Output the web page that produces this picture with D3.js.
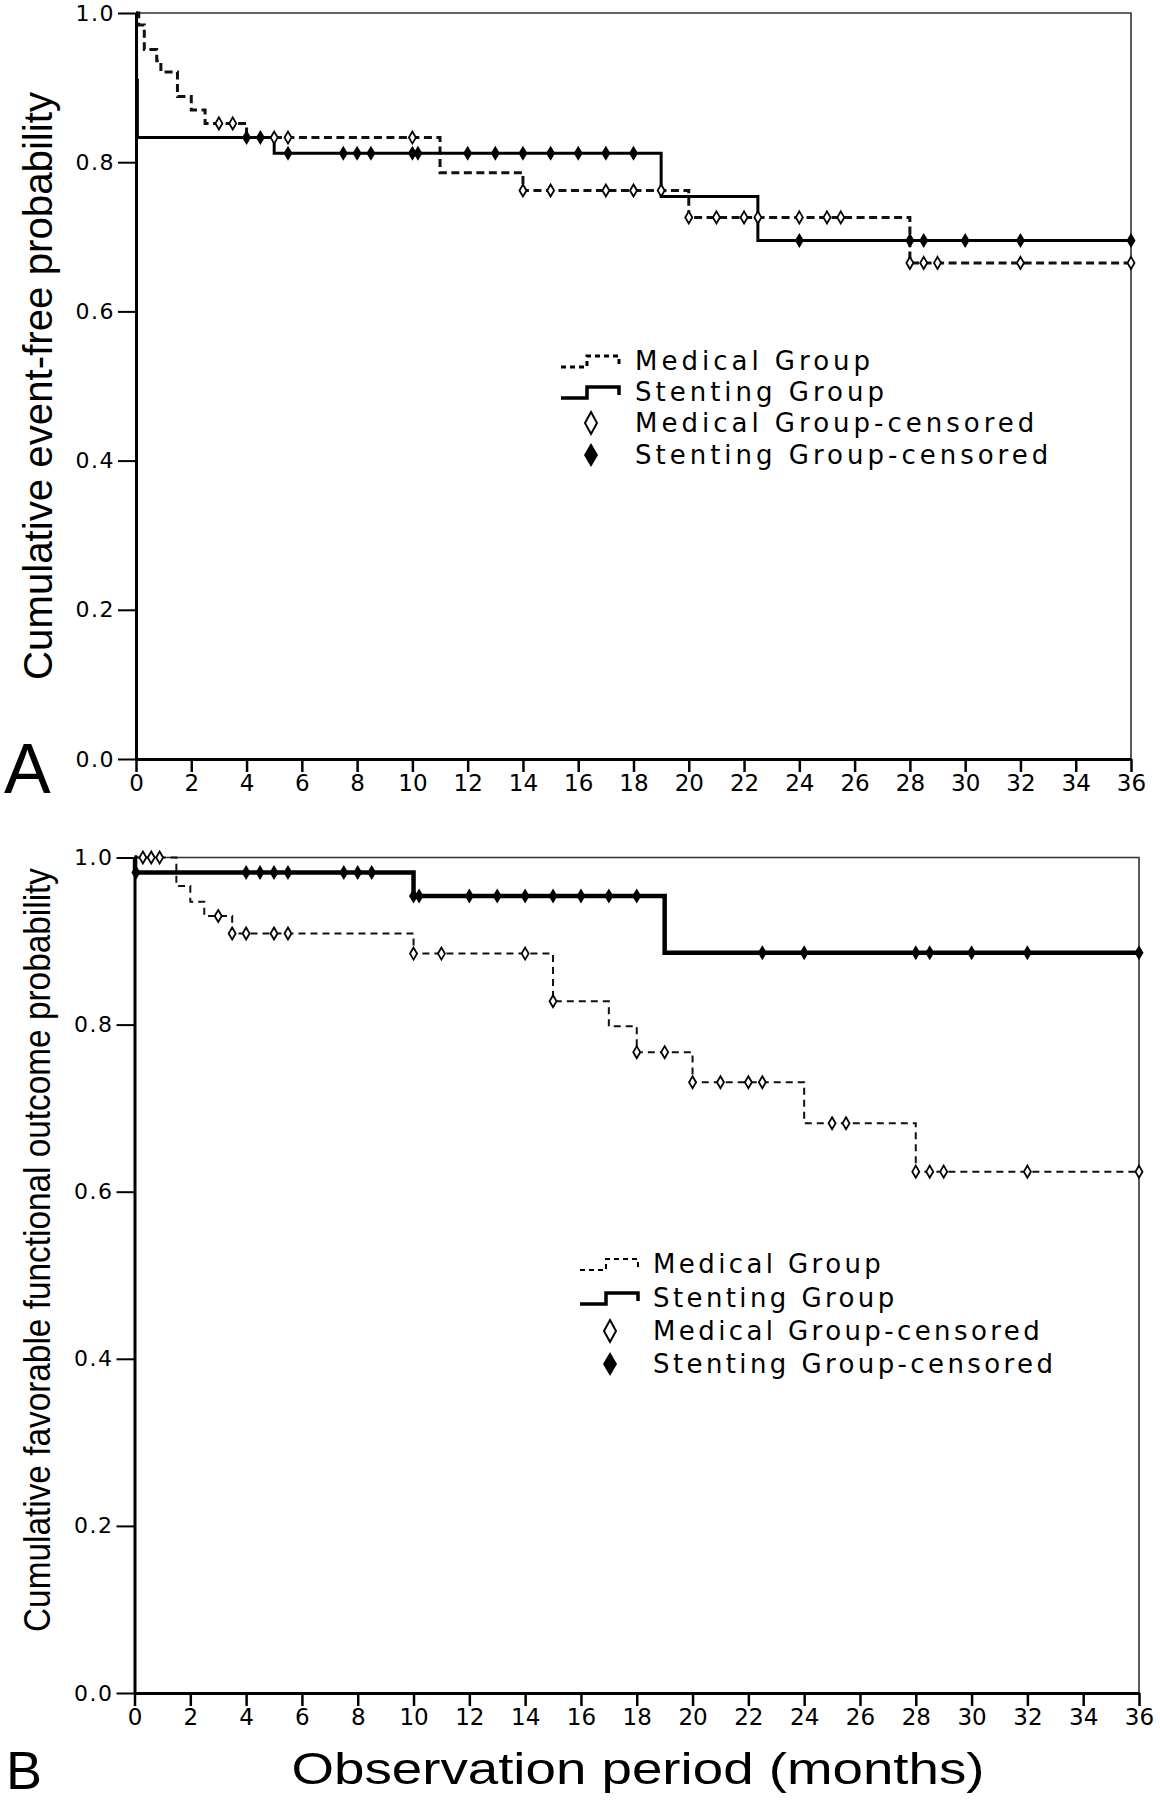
<!DOCTYPE html>
<html>
<head>
<meta charset="utf-8">
<script src="https://cdn.jsdelivr.net/npm/d3@7"></script>
<style>
  body { margin: 0; background: #fff; }
  svg { display: block; }
</style>
</head>
<body>
<div id="chart"></div>
<script>
// tick values shared by both panels
const xTicks = [0, 2, 4, 6, 8, 10, 12, 14, 16, 18, 20, 22, 24, 26, 28, 30, 32, 34, 36]
const yTicks = [0.0, 0.2, 0.4, 0.6, 0.8, 1.0]

// panel A: [month, event-free probability] at each step
const medicalA = [[0, 1.0], [0.1, 0.984], [0.3, 0.951], [0.75, 0.936], [0.9, 0.921], [1.5, 0.888],
  [2.0, 0.870], [2.5, 0.852], [4.0, 0.833], [11.0, 0.786], [14.0, 0.762], [20.0, 0.726], [28.0, 0.665]]
const stentingA = [[0, 1.0], [0.02, 0.91], [0.05, 0.833], [5.0, 0.812], [19.0, 0.754], [22.5, 0.695]]
const medicalCensoredA = [3.0, 3.5, 5.0, 5.5, 10.0, 14.0, 15.0, 17.0, 18.0, 19.0, 20.0, 21.0, 22.0, 22.5,
  24.0, 25.0, 25.5, 28.0, 28.5, 29.0, 32.0, 36.0]
const stentingCensoredA = [4.0, 4.5, 5.5, 7.5, 8.0, 8.5, 10.0, 10.2, 12, 13, 14, 15, 16, 17, 18,
  24, 28, 28.5, 30, 32, 36]

// panel B: [month, favorable outcome probability]
const medicalB = [[0, 1.0], [1.5, 0.966], [2.0, 0.947], [2.5, 0.930], [3.5, 0.909], [10.0, 0.885],
  [15.0, 0.828], [17.0, 0.798], [18.0, 0.767], [20.0, 0.731], [24.0, 0.682], [28.0, 0.624]]
const stentingB = [[0, 1.0], [0.02, 0.982], [10.0, 0.954], [19.0, 0.886]]
const medicalCensoredB = [0.3, 0.6, 0.9, 3.0, 3.5, 4.0, 5.0, 5.5, 10.0, 11.0, 14.0, 15.0, 18.0, 19.0,
  20.0, 21.0, 22.0, 22.5, 25.0, 25.5, 28.0, 28.5, 29.0, 32.0, 36.0]
const stentingCensoredB = [0.05, 4.0, 4.5, 5.0, 5.5, 7.5, 8.0, 8.5, 10.0, 10.2, 12, 13, 14, 15, 16, 17, 18,
  22.5, 24, 28, 28.5, 30, 32, 36]

const legendLabels = ["Medical Group", "Stenting Group", "Medical Group-censored", "Stenting Group-censored"]

const width = 1160, height = 1800

const svg = d3.select("#chart").append("svg")
  .attr("width", width)
  .attr("height", height)
  .attr("viewBox", [0, 0, width, height])

svg.append("rect").attr("width", width).attr("height", height).attr("fill", "#fff")

const diamond = (w, h) => `M0,${-h}L${w},0L0,${h}L${-w},0Z`

// value of a step curve at month t
const stepAt = (steps, t) => {
  let v = steps[0][1]
  for (const s of steps) if (s[0] <= t) v = s[1]
  return v
}

function panel(opts) {
  const x = d3.scaleLinear().domain([0, 36]).range([opts.left, opts.right])
  const y = d3.scaleLinear().domain([0, 1]).range([opts.bottom, opts.top])
  const g = svg.append("g")

  // frame top/right
  g.append("path")
    .attr("d", `M${x(0)},${y(1)}H${x(36)}V${y(0)}`)
    .attr("fill", "none")
    .attr("stroke", "#333")
    .attr("stroke-width", 1.6)

  const xAxis = g.append("g")
    .attr("transform", `translate(0,${y(0)})`)
    .call(d3.axisBottom(x).tickValues(xTicks).tickSize(13).tickSizeOuter(0).tickPadding(3))
  xAxis.select(".domain").attr("stroke-width", 3)
  xAxis.selectAll(".tick line").attr("stroke-width", 2.5)
  xAxis.selectAll(".tick text")
    .attr("font-family", "DejaVu Sans, Verdana, sans-serif")
    .attr("font-size", opts.tickSize)
    .attr("fill", "#000")

  const yAxis = g.append("g")
    .attr("transform", `translate(${x(0)},0)`)
    .call(d3.axisLeft(y).tickValues(yTicks).tickFormat(d3.format(".1f")).tickSize(18).tickSizeOuter(0).tickPadding(3))
  yAxis.select(".domain").attr("stroke-width", 3)
  yAxis.selectAll(".tick line").attr("stroke-width", 2)
  yAxis.selectAll(".tick text")
    .attr("font-family", "DejaVu Sans, Verdana, sans-serif")
    .attr("font-size", opts.tickSize - 1)
    .attr("letter-spacing", 1.5)
    .attr("fill", "#000")

  const line = d3.line()
    .curve(d3.curveStepAfter)
    .x(d => x(d[0]))
    .y(d => y(d[1]))

  const withEnd = s => s.concat([[36, s[s.length - 1][1]]])

  g.append("path")
    .datum(withEnd(opts.medical))
    .attr("fill", "none")
    .attr("stroke", "#111")
    .attr("stroke-width", opts.medWidth)
    .attr("stroke-dasharray", opts.medDash)
    .attr("d", line)

  g.append("path")
    .datum(withEnd(opts.stenting))
    .attr("fill", "none")
    .attr("stroke", "#000")
    .attr("stroke-width", opts.stentWidth)
    .attr("d", line)

  g.selectAll(".cens-med")
    .data(opts.medCens)
    .join("path")
    .attr("transform", d => `translate(${x(d)},${y(stepAt(opts.medical, d))})`)
    .attr("d", diamond(3.5, 6))
    .attr("fill", "#fff")
    .attr("stroke", "#000")
    .attr("stroke-width", 1.8)

  g.selectAll(".cens-stent")
    .data(opts.stentCens)
    .join("path")
    .attr("transform", d => `translate(${x(d)},${y(stepAt(opts.stenting, d))})`)
    .attr("d", diamond(4.5, 7.5))
    .attr("fill", "#000")

  // y title
  g.append("text")
    .attr("transform", `translate(${opts.titleX},${(opts.titleTop + opts.titleBottom) / 2}) rotate(-90)`)
    .attr("text-anchor", "middle")
    .attr("dominant-baseline", "central")
    .attr("font-family", "Liberation Sans, Arial, sans-serif")
    .attr("font-size", opts.titleSize)
    .attr("textLength", opts.titleBottom - opts.titleTop)
    .attr("lengthAdjust", "spacingAndGlyphs")
    .text(opts.title)

  // panel letter
  g.append("text")
    .attr("x", opts.letterX)
    .attr("y", opts.letterY)
    .attr("font-family", "Liberation Sans, Arial, sans-serif")
    .attr("font-size", opts.letterSize)
    .text(opts.letter)

  // legend
  const lg = g.append("g")
  const rows = opts.legendRows
  const sx = opts.legendSymX
  lg.append("path")
    .attr("d", `M${sx},${rows[0] + 6}H${sx + 26}V${rows[0] - 5}H${sx + 58}V${rows[0] + 3}`)
    .attr("fill", "none")
    .attr("stroke", "#000")
    .attr("stroke-width", opts.medWidth)
    .attr("stroke-dasharray", "5,4")
  lg.append("path")
    .attr("d", `M${sx},${rows[1] + 6}H${sx + 26}V${rows[1] - 5}H${sx + 58}V${rows[1] + 3}`)
    .attr("fill", "none")
    .attr("stroke", "#000")
    .attr("stroke-width", 3.5)
  lg.append("path")
    .attr("transform", `translate(${sx + 30},${rows[2]})`)
    .attr("d", diamond(6, 11))
    .attr("fill", "#fff")
    .attr("stroke", "#000")
    .attr("stroke-width", 2)
  lg.append("path")
    .attr("transform", `translate(${sx + 30},${rows[3]})`)
    .attr("d", diamond(7, 12))
    .attr("fill", "#000")

  lg.selectAll("text")
    .data(legendLabels)
    .join("text")
    .attr("x", opts.legendTextX)
    .attr("y", (d, i) => rows[i])
    .attr("dominant-baseline", "central")
    .attr("font-family", "DejaVu Sans, Verdana, sans-serif")
    .attr("font-size", 26)
    .attr("letter-spacing", opts.legendSpacing)
    .text(d => d)

  return {x, y}
}

panel({
  left: 136, right: 1131, top: 13, bottom: 759,
  medical: medicalA, stenting: stentingA,
  medCens: medicalCensoredA, stentCens: stentingCensoredA,
  medWidth: 3, medDash: "8,4.5", stentWidth: 3, tickSize: 23,
  title: "Cumulative event-free probability", titleX: 38, titleTop: 92, titleBottom: 680, titleSize: 40,
  letter: "A", letterX: 4, letterY: 793, letterSize: 70,
  legendRows: [361, 392, 423, 455], legendSymX: 561, legendTextX: 635, legendSpacing: 4
})

panel({
  left: 134.5, right: 1139, top: 857.5, bottom: 1693,
  medical: medicalB, stenting: stentingB,
  medCens: medicalCensoredB, stentCens: stentingCensoredB,
  medWidth: 2, medDash: "7,5", stentWidth: 4.5, tickSize: 23,
  title: "Cumulative favorable functional outcome probability", titleX: 37, titleTop: 868, titleBottom: 1632, titleSize: 36,
  letter: "B", letterX: 6, letterY: 1789, letterSize: 54,
  legendRows: [1264, 1298, 1331, 1364], legendSymX: 580, legendTextX: 653, legendSpacing: 3.4
})

svg.append("text")
  .attr("x", 638)
  .attr("y", 1784)
  .attr("text-anchor", "middle")
  .attr("font-family", "Liberation Sans, Arial, sans-serif")
  .attr("font-size", 44)
  .attr("textLength", 693)
  .attr("lengthAdjust", "spacingAndGlyphs")
  .text("Observation period (months)")
</script>
</body>
</html>
